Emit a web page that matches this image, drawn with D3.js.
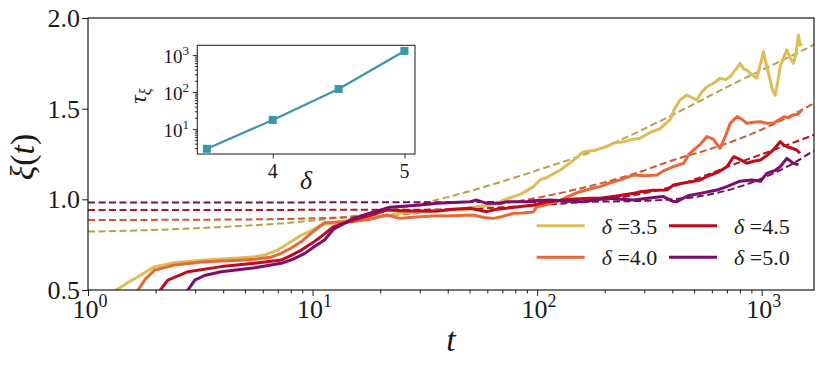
<!DOCTYPE html>
<html>
<head>
<meta charset="utf-8">
<script src="https://cdn.jsdelivr.net/npm/d3@7"></script>
<style>
    body { margin: 0; background: #fff; }
    svg { display: block; }
</style>
</head>
<body>
<svg id="chart" width="823" height="367"></svg>
<script>
// series: [t, xi(t)]
const deltaLabels = ["3.5", "4.0", "4.5", "5.0"];

const xi35 = [[1.3,0.49],[1.5,0.54],[1.67,0.573],[1.98,0.629],[2.43,0.65],[3.31,0.665],[4.5,0.675],[5.53,0.684],
    [6.12,0.693],[7.0,0.72],[7.78,0.757],[8.92,0.803],[10,0.83],[10.9,0.858],[12.4,0.87],[15.2,0.89],[18,0.9],
    [21.4,0.91],[24.5,0.923],[30,0.93],[35,0.935],[42,0.94],[48.6,0.941],[54,0.96],[60,0.965],[66,0.975],[72,1.0],
    [78.4,1.015],[85,1.03],[96.3,1.07],[103,1.107],[110,1.12],[127,1.162],[140,1.2],[150,1.23],[161,1.263],[180,1.27],
    [204,1.29],[219,1.31],[243,1.318],[265,1.33],[288,1.337],[320,1.37],[353,1.39],[391,1.44],[410,1.5],[433,1.548],
    [464,1.575],[490,1.56],[514,1.548],[540,1.59],[570,1.621],[610,1.64],[653,1.668],[690,1.66],[724,1.677],[760,1.71],
    [802,1.75],[830,1.72],[859,1.713],[900,1.69],[952,1.668],[990,1.75],[1019,1.814],[1050,1.74],[1091,1.658],
    [1120,1.6],[1148,1.575],[1180,1.65],[1209,1.731],[1250,1.78],[1294,1.824],[1340,1.78],[1384,1.75],[1420,1.8],
    [1458,1.906],[1480,1.85],[1510,1.86]];

const xi40 = [[1.65,0.49],[1.8,0.56],[1.98,0.61],[2.43,0.638],[3.31,0.656],[4.5,0.663],[5.53,0.669],[6.5,0.68],
    [7.25,0.702],[8.0,0.73],[8.92,0.767],[10,0.82],[11.3,0.871],[13,0.875],[15.2,0.877],[18,0.89],[21.4,0.914],
    [24.5,0.895],[27,0.9],[30.1,0.904],[34.5,0.908],[42,0.91],[52,0.914],[58,0.9],[63.9,0.895],[70,0.905],[78.4,0.923],
    [86,0.925],[96,0.93],[99.7,0.959],[110,0.97],[127,0.996],[140,1.02],[155,1.042],[175,1.06],[191,1.07],[210,1.09],
    [234,1.107],[269,1.134],[300,1.13],[341,1.134],[370,1.16],[405,1.18],[450,1.2],[475,1.25],[497,1.272],[530,1.3],
    [570,1.346],[611,1.33],[653,1.281],[690,1.35],[724,1.419],[777,1.456],[820,1.44],[859,1.419],[920,1.425],
    [988,1.428],[1050,1.42],[1126,1.419],[1200,1.44],[1257,1.456],[1320,1.45],[1384,1.465],[1450,1.47],[1510,1.493]];

const xi45 = [[2.07,0.49],[2.27,0.555],[2.79,0.601],[3.92,0.629],[5.53,0.647],[7.25,0.665],[8.0,0.69],[8.92,0.72],
    [10,0.76],[10.9,0.794],[12.4,0.849],[15.2,0.886],[18,0.91],[21.4,0.941],[26.3,0.936],[30,0.935],[35.8,0.936],
    [42,0.945],[50.3,0.951],[59.7,0.932],[66,0.945],[73,0.951],[85,0.96],[96.3,0.969],[110,0.985],[140,1.0],
    [172,1.006],[191,1.006],[230,1.02],[269,1.033],[288,1.042],[330,1.05],[378,1.051],[405,1.079],[450,1.09],
    [500,1.1],[532,1.107],[580,1.13],[640,1.15],[700,1.18],[750,1.235],[800,1.22],[859,1.199],[920,1.21],[988,1.217],
    [1050,1.24],[1126,1.272],[1209,1.318],[1250,1.3],[1294,1.29],[1380,1.28],[1432,1.272],[1482,1.254]];

const xi50 = [[2.75,0.49],[2.99,0.555],[3.3,0.58],[3.92,0.601],[5.53,0.623],[7.25,0.647],[8.2,0.67],[9.24,0.702],
    [10.2,0.74],[11.3,0.776],[12.4,0.835],[13.5,0.86],[15.2,0.895],[18,0.923],[22.1,0.956],[26.3,0.963],[30.1,0.969],
    [35.8,0.978],[42.4,0.982],[50.3,0.987],[53.8,0.996],[59.7,0.978],[68.4,0.978],[73.3,0.987],[89.9,0.987],
    [96,0.992],[114,0.996],[140,0.99],[161,0.987],[204,1.006],[269,0.996],[330,1.01],[365,1.015],[400,0.99],
    [419,0.987],[470,1.02],[532,1.033],[631,1.051],[700,1.07],[800,1.1],[900,1.107],[988,1.1],[1054,1.143],
    [1150,1.16],[1209,1.18],[1294,1.226],[1384,1.199],[1458,1.19]];

// dashed fits
const fit35 = [[1,0.822],[3,0.84],[10,0.883],[20,0.93],[30,0.975],[50,1.045],[100,1.16],[200,1.29],[400,1.465],
    [800,1.655],[1300,1.78],[1710,1.853]];
const fit40 = [[1,0.886],[5,0.889],[10,0.895],[20,0.91],[30,0.925],[50,0.955],[100,1.008],[145,1.051],[204,1.097],
    [288,1.152],[405,1.217],[570,1.272],[800,1.335],[1200,1.43],[1710,1.53]];
const fit45 = [[1,0.941],[30,0.943],[60,0.952],[100,0.968],[200,0.998],[400,1.07],[800,1.205],[1126,1.272],
    [1400,1.315],[1710,1.356]];
const fit50 = [[1,0.982],[100,0.986],[200,0.988],[300,0.992],[400,1.0],[570,1.024],[800,1.07],[1126,1.143],
    [1384,1.199],[1710,1.27]];

// inset
const insetDelta = [3.5, 4.0, 4.5, 5.0];
const insetTau = [2.9, 17.5, 120, 1280];

const xTicks = [1, 10, 100, 1000];
const yTicks = [0.5, 1.0, 1.5, 2.0];
const insetXTicks = [4, 5];
const insetYTicks = [10, 100, 1000];

const solidColors = ["#dcbd56", "#e9683a", "#c20a1d", "#7e0b6d"];
const dashColors = ["#b9a14c", "#ca5830", "#af1822", "#6c1357"];

const FONT = "'Liberation Serif', 'Times New Roman', 'DejaVu Serif', serif";

const svg = d3.select("#chart")
    .attr("font-family", FONT)
    .style("font-family", FONT)
    .attr("fill", "#1a1a1a");
const m = { left: 88, right: 814, top: 18, bottom: 290 };

const x = d3.scaleLog().domain([1, 1710]).range([m.left, m.right]);
const y = d3.scaleLinear().domain([0.5, 2.0]).range([m.bottom, m.top]);

svg.append("defs").append("clipPath").attr("id", "plotclip")
    .append("rect")
    .attr("x", m.left).attr("y", m.top)
    .attr("width", m.right - m.left).attr("height", m.bottom - m.top);

const plot = svg.append("g").attr("clip-path", "url(#plotclip)");
const line = d3.line().x(d => x(d[0])).y(d => y(d[1]));

[fit35, fit40, fit45, fit50].forEach((f, i) => {
    plot.append("path").datum(f)
        .attr("d", line.curve(d3.curveMonotoneX))
        .attr("fill", "none")
        .attr("stroke", dashColors[i])
        .attr("stroke-width", 2)
        .attr("stroke-dasharray", "7,3.5");
});

[xi35, xi40, xi45, xi50].forEach((s, i) => {
    plot.append("path").datum(s)
        .attr("d", line.curve(d3.curveLinear))
        .attr("fill", "none")
        .attr("stroke", solidColors[i])
        .attr("stroke-width", 3)
        .attr("stroke-linejoin", "round");
});

// axes
let minors = [];
for (let dec = 1; dec <= 1000; dec *= 10) {
    for (let k = 2; k <= 9; k++) {
        if (dec * k <= 1710) minors.push(dec * k);
    }
}
const xAxisG = svg.append("g").attr("transform", `translate(0,${m.bottom})`);
xAxisG.call(d3.axisBottom(x).tickValues(xTicks).tickSize(6).tickFormat(""));
xAxisG.select(".domain").remove();
const xMinorG = svg.append("g").attr("transform", `translate(0,${m.bottom})`)
    .call(d3.axisBottom(x).tickValues(minors).tickSize(3.5).tickFormat(""));
xMinorG.select(".domain").remove();

const yAxisG = svg.append("g").attr("transform", `translate(${m.left},0)`)
    .call(d3.axisLeft(y).tickValues(yTicks).tickSize(6).tickFormat(""));
yAxisG.select(".domain").remove();
svg.selectAll(".tick line").attr("stroke", "#1a1a1a").attr("stroke-width", 1);

svg.append("rect")
    .attr("x", m.left).attr("y", m.top)
    .attr("width", m.right - m.left).attr("height", m.bottom - m.top)
    .attr("fill", "none").attr("stroke", "#1a1a1a").attr("stroke-width", 1.2);

function txt(sel) {
    return sel.append("text").attr("font-family", FONT).attr("fill", "#1a1a1a");
}

xTicks.forEach(v => {
    const t = txt(svg)
        .attr("x", x(v) + 2).attr("y", 318)
        .attr("text-anchor", "middle")
        .attr("font-size", 26);
    t.append("tspan").text("10");
    t.append("tspan").attr("dy", -11).attr("font-size", 18).text(Math.round(Math.log10(v)));
});

yTicks.forEach(v => {
    txt(svg)
        .attr("x", 80).attr("y", y(v) + 9)
        .attr("text-anchor", "end")
        .attr("font-size", 26)
        .text(v.toFixed(1));
});

// axis labels
const yl = txt(svg)
    .attr("transform", "translate(34,157) rotate(-90)")
    .attr("text-anchor", "middle")
    .attr("font-size", 34);
yl.append("tspan").attr("font-style", "italic").text("ξ");
yl.append("tspan").text("(");
yl.append("tspan").attr("font-style", "italic").text("t");
yl.append("tspan").text(")");

txt(svg)
    .attr("x", 451).attr("y", 351)
    .attr("text-anchor", "middle")
    .attr("font-size", 34)
    .attr("font-style", "italic")
    .text("t");

// legend
const legPos = [[536.7, 225.7], [536.7, 257.3], [669, 225.7], [669, 257.3]];
deltaLabels.forEach((lab, i) => {
    const p = legPos[i];
    svg.append("line")
        .attr("x1", p[0]).attr("x2", p[0] + 48)
        .attr("y1", p[1]).attr("y2", p[1])
        .attr("stroke", solidColors[i]).attr("stroke-width", 3);
    const t = txt(svg)
        .attr("x", p[0] + 65).attr("y", p[1] + 8)
        .attr("font-size", 22);
    t.append("tspan").attr("font-style", "italic").text("δ");
    t.append("tspan").text(" =" + lab);
});

// inset
const im = { left: 197.3, right: 415, top: 45.3, bottom: 154 };
const xi = d3.scaleLinear().domain([3.427, 5.08]).range([im.left, im.right]);
const yi = d3.scaleLog().domain([2.1, 1820]).range([im.bottom, im.top]);

svg.append("rect")
    .attr("x", im.left).attr("y", im.top)
    .attr("width", im.right - im.left).attr("height", im.bottom - im.top)
    .attr("fill", "#fff");

let iMinors = [];
[1, 10, 100, 1000].forEach(dec => {
    for (let k = 2; k <= 9; k++) {
        const v = dec * k;
        if (v >= 2.1 && v <= 1820) iMinors.push(v);
    }
});
const iy = svg.append("g").attr("transform", `translate(${im.left},0)`)
    .call(d3.axisLeft(yi).tickValues(insetYTicks).tickSize(4.5).tickFormat(""));
iy.select(".domain").remove();
const iyMin = svg.append("g").attr("transform", `translate(${im.left},0)`)
    .call(d3.axisLeft(yi).tickValues(iMinors).tickSize(2.5).tickFormat(""));
iyMin.select(".domain").remove();
const ix = svg.append("g").attr("transform", `translate(0,${im.bottom})`)
    .call(d3.axisBottom(xi).tickValues(insetXTicks).tickSize(4.5).tickFormat(""));
ix.select(".domain").remove();
[iy, iyMin, ix].forEach(g => g.selectAll(".tick line").attr("stroke", "#1a1a1a").attr("stroke-width", 0.9));

svg.append("rect")
    .attr("x", im.left).attr("y", im.top)
    .attr("width", im.right - im.left).attr("height", im.bottom - im.top)
    .attr("fill", "none").attr("stroke", "#1a1a1a").attr("stroke-width", 1);

const insetPts = insetDelta.map((d, i) => [d, insetTau[i]]);
svg.append("path").datum(insetPts)
    .attr("d", d3.line().x(d => xi(d[0])).y(d => yi(d[1])))
    .attr("fill", "none").attr("stroke", "#3a97a8").attr("stroke-width", 2.2);
svg.selectAll(".sq").data(insetPts).join("rect")
    .attr("x", d => xi(d[0]) - 4).attr("y", d => yi(d[1]) - 4)
    .attr("width", 8).attr("height", 8)
    .attr("fill", "#3a97a8");

insetYTicks.forEach(v => {
    const t = txt(svg)
        .attr("x", 189).attr("y", yi(v) + 8)
        .attr("text-anchor", "end")
        .attr("font-size", 19);
    t.append("tspan").text("10");
    t.append("tspan").attr("dy", -8).attr("font-size", 13).text(Math.round(Math.log10(v)));
});
insetXTicks.forEach(v => {
    txt(svg)
        .attr("x", xi(v)).attr("y", 178)
        .attr("text-anchor", "middle")
        .attr("font-size", 20)
        .text(v);
});

txt(svg)
    .attr("x", 306).attr("y", 189)
    .attr("text-anchor", "middle")
    .attr("font-size", 26)
    .attr("font-style", "italic")
    .text("δ");

const tl = txt(svg)
    .attr("transform", "translate(146,96) rotate(-90)")
    .attr("text-anchor", "middle")
    .attr("font-size", 24);
tl.append("tspan").attr("font-style", "italic").text("τ");
tl.append("tspan").attr("dy", 5).attr("font-size", 16).attr("font-style", "italic").text("ξ");
</script>
</body>
</html>
